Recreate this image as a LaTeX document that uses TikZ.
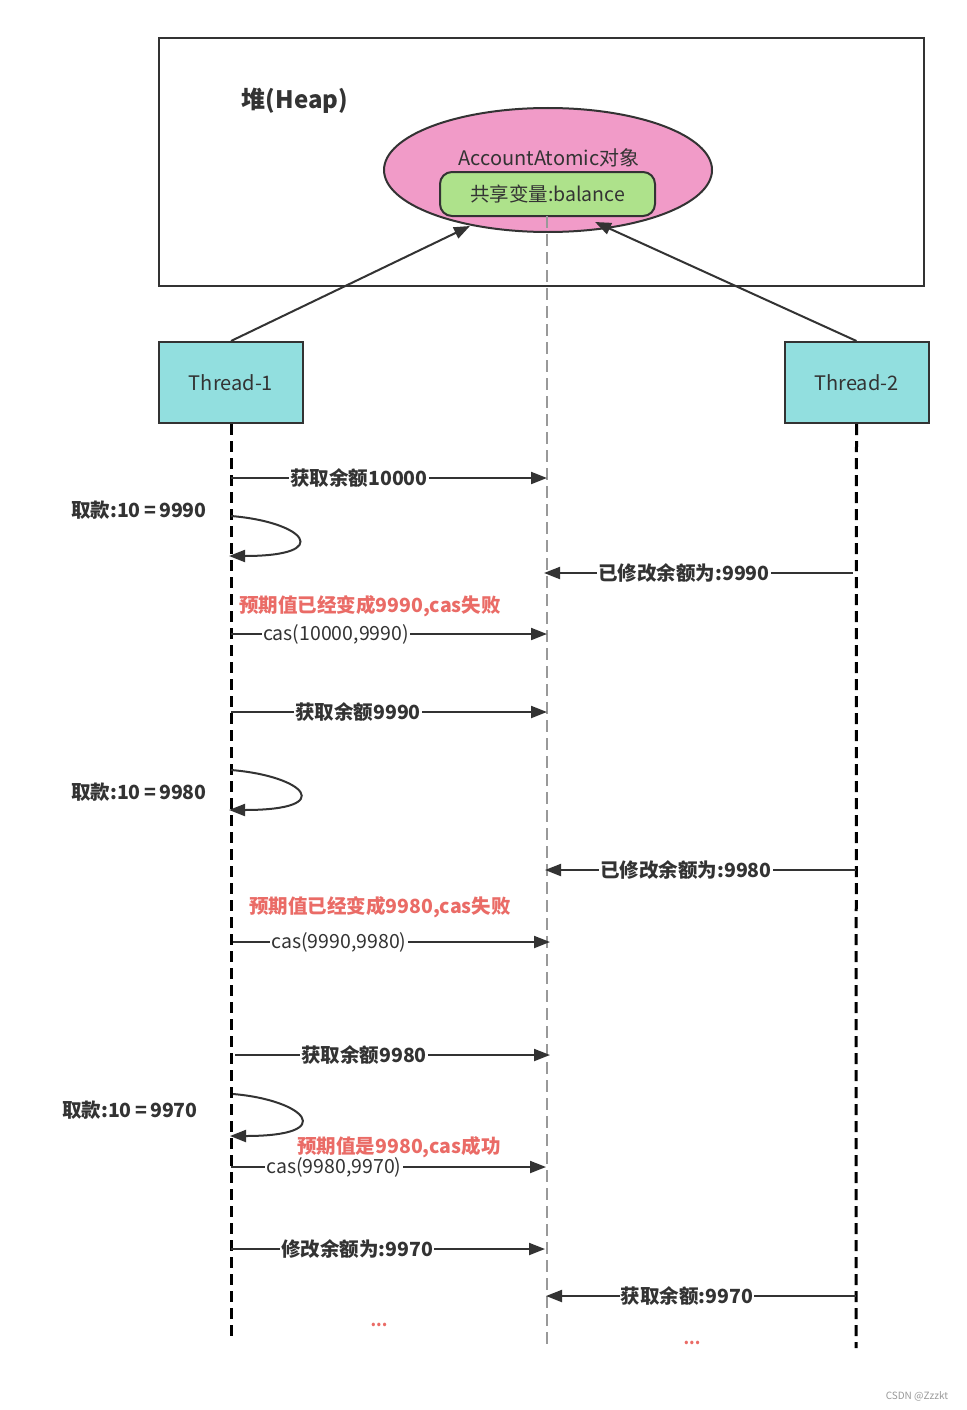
\documentclass[tikz,border=0pt]{standalone}
\usepackage{fontspec}
\setmainfont{Noto Sans CJK SC}
\usetikzlibrary{arrows.meta,shapes.geometric}
\definecolor{ink}{HTML}{333333}
\definecolor{pinkfill}{HTML}{F19BC8}
\definecolor{greenfill}{HTML}{AEE28B}
\definecolor{tealfill}{HTML}{92DFDF}
\definecolor{redtext}{HTML}{EA6B66}
\definecolor{grayline}{HTML}{999999}
\begin{document}
\begin{tikzpicture}[x=1pt,y=-1pt,
  msg/.style={draw=ink,line width=2pt,-{Triangle[length=16pt,width=12pt]}},
  lbl/.style={fill=white,inner sep=1pt,text=ink,font=\bfseries\fontsize{19.5}{22}\selectfont},
  lbln/.style={fill=white,inner sep=1pt,text=ink,font=\fontsize{19.5}{22}\selectfont},
  note/.style={inner sep=0pt,text=ink,font=\bfseries\fontsize{19.5}{22}\selectfont},
  rednote/.style={inner sep=0pt,text=redtext,font=\bfseries\fontsize{19.5}{22}\selectfont},
  thread/.style={draw=ink,line width=2pt,fill=tealfill,minimum width=144pt,minimum height=81pt,font=\fontsize{20}{22}\selectfont,text=ink},
  lifeline/.style={draw=black,line width=3pt,dash pattern=on 11pt off 6pt},
  graylife/.style={draw=grayline,line width=2.5pt,dash pattern=on 12pt off 6pt},
  selfloop/.style={draw=ink,line width=2pt,-{Triangle[length=16pt,width=12pt]}}
]
\useasboundingbox (0,0) rectangle (966,1410);
\fill[white] (0,0) rectangle (966,1410);

% Heap
\node[draw=ink,line width=2pt,minimum width=765pt,minimum height=248pt,inner sep=0pt] (heap) at (541.5,162) {};
\node[text=ink,font=\bfseries\fontsize{24}{26}\selectfont] (heaplbl) at (295,101) {堆(Heap)};
\node[draw=ink,line width=2pt,fill=pinkfill,ellipse,minimum width=328pt,minimum height=124pt,inner sep=0pt] (obj) at (548,170) {};
\node[text=ink,font=\fontsize{20}{22}\selectfont] (objlbl) at (549,158) {AccountAtomic对象};
\node[draw=ink,line width=2pt,fill=greenfill,rounded corners=12pt,minimum width=215pt,minimum height=44pt,font=\fontsize{19.5}{22}\selectfont,text=ink] (bal) at (547.5,194) {共享变量:balance};

% Threads
\node[thread] (t1) at (231,382.5) {Thread-1};
\node[thread] (t2) at (856.5,382.5) {Thread-2};

\coordinate (a1) at (470,226);
\coordinate (a2) at (595,222);
\draw[msg] (t1.north) -- (a1);
\draw[msg] (t2.north) -- (a2);

% lifelines
\coordinate (g0) at (547,216);
\coordinate (g1) at (547,1346);
\coordinate (l1) at (231,1336);
\coordinate (l2) at (856,1348);
\draw[graylife] (g0) -- (g1);
\draw[lifeline] (t1.south) -- (l1);
\draw[lifeline] (t2.south) -- (l2);

% message 1
\coordinate (m1a) at (231,478); \coordinate (m1b) at (547,478);
\draw[msg] (m1a) -- (m1b);
\node[lbl] (m1l) at (359,478) {获取余额10000};

% self loop 1
\coordinate (s1a) at (231,516); \coordinate (s1b) at (229,556);
\draw[selfloop] (s1a) .. controls (305,522) and (335,556) .. (s1b);
\node[note] (s1l) at (139,510) {取款:10\,=\,9990};

% message 2 (thread2)
\coordinate (m2a) at (853,573); \coordinate (m2b) at (544,573);
\draw[msg] (m2a) -- (m2b);
\node[lbl] (m2l) at (684,573) {已修改余额为:9990};

\node[rednote] (r1) at (370,606) {预期值已经变成9990,cas失败};
\coordinate (m3a) at (231,634); \coordinate (m3b) at (547,634);
\draw[msg] (m3a) -- (m3b);
\node[lbln] (m3l) at (336,634) {cas(10000,9990)};

\coordinate (m4a) at (231,712); \coordinate (m4b) at (547,712);
\draw[msg] (m4a) -- (m4b);
\node[lbl] (m4l) at (358,712) {获取余额9990};

\coordinate (s2a) at (231,770); \coordinate (s2b) at (229,810);
\draw[selfloop] (s2a) .. controls (305,776) and (338,810) .. (s2b);
\node[note] (s2l) at (139,792) {取款:10\,=\,9980};

\coordinate (m5a) at (856,870); \coordinate (m5b) at (545,870);
\draw[msg] (m5a) -- (m5b);
\node[lbl] (m5l) at (686,870) {已修改余额为:9980};

\node[rednote] (r2) at (380,907) {预期值已经变成9980,cas失败};
\coordinate (m6a) at (233,942); \coordinate (m6b) at (550,942);
\draw[msg] (m6a) -- (m6b);
\node[lbln] (m6l) at (339,942) {cas(9990,9980)};

\coordinate (m7a) at (235,1055); \coordinate (m7b) at (550,1055);
\draw[msg] (m7a) -- (m7b);
\node[lbl] (m7l) at (364,1055) {获取余额9980};

\coordinate (s3a) at (233,1094); \coordinate (s3b) at (230,1136);
\draw[selfloop] (s3a) .. controls (305,1100) and (340,1136) .. (s3b);
\node[note] (s3l) at (130,1110) {取款:10\,=\,9970};

\node[rednote] (r3) at (399,1147) {预期值是9980,cas成功};
\coordinate (m8a) at (231,1167); \coordinate (m8b) at (546,1167);
\draw[msg] (m8a) -- (m8b);
\node[lbln] (m8l) at (334,1167) {cas(9980,9970)};

\coordinate (m9a) at (231,1249); \coordinate (m9b) at (545,1249);
\draw[msg] (m9a) -- (m9b);
\node[lbl] (m9l) at (357,1249) {修改余额为:9970};

\coordinate (m10a) at (856,1296); \coordinate (m10b) at (546,1296);
\draw[msg] (m10a) -- (m10b);
\node[lbl] (m10l) at (687,1296) {获取余额:9970};

\node[text=redtext,font=\bfseries\fontsize{16}{18}\selectfont] (d1) at (379,1325) {...};
\node[text=redtext,font=\bfseries\fontsize{16}{18}\selectfont] (d2) at (692,1343) {...};

\node[text=grayline,font=\fontsize{10}{12}\selectfont] (wm) at (917,1396) {CSDN @Zzzkt};
\end{tikzpicture}
\end{document}
